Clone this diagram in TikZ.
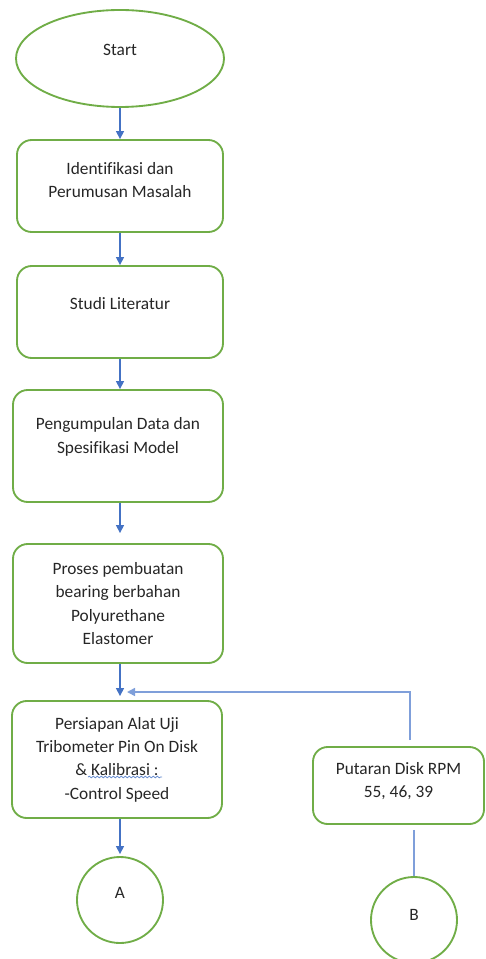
\documentclass[tikz,border=0pt]{standalone}
\usepackage{fontspec}
\setmainfont{Carlito}[Ligatures=CommonOff]
\usetikzlibrary{arrows.meta}
\usetikzlibrary{shapes.geometric}
\usetikzlibrary{decorations.pathmorphing}
\definecolor{shape-green}{HTML}{70AD47}
\definecolor{flow-blue}{HTML}{4472C4}
\definecolor{loop-blue}{HTML}{7F9FDA}
\newcommand{\px}{0.75pt}
\newcommand{\lift}[1]{\rule[-#1]{0pt}{0pt}} % pushes the text up inside its shape
\tikzstyle{boxtext}=[text=black!85,align=center,inner sep=0pt,font=\fontsize{13}{17.5}\selectfont]
\tikzstyle{stepbox}=[boxtext,draw=shape-green,line width=1.4pt,rounded corners=11pt]
\tikzstyle{terminal}=[boxtext,draw=shape-green,line width=1.4pt,ellipse]
\tikzstyle{pageconnector}=[boxtext,draw=shape-green,line width=1.4pt,circle,minimum size=86*\px]
\tikzstyle{flow}=[flow-blue,line width=1.1pt,-{Triangle[width=6pt,length=6pt]}]
\tikzstyle{loopline}=[loop-blue,line width=1.1pt]
\tikzstyle{spellcheck}=[flow-blue!80,line width=0.6pt,decorate,decoration={snake,segment length=3pt,amplitude=0.6pt}]
\begin{document}
\begin{tikzpicture}[x=0.75pt,y=-0.75pt]
\useasboundingbox (0,0) rectangle (485,959);
% main column
\node[terminal,minimum width=208*\px,minimum height=97*\px] (start) at (120,58.5) {Start\lift{13.5pt}};
\node[stepbox,minimum width=206*\px,minimum height=92*\px] (ident) at (120,186) {Identifikasi dan\\Perumusan Masalah\lift{9pt}};
\node[stepbox,minimum width=206*\px,minimum height=92*\px] (studi) at (120,312) {Studi Literatur\lift{13.5pt}};
\node[stepbox,minimum width=210*\px,minimum height=112*\px] (data) at (118,446) {Pengumpulan Data dan\\Spesifikasi Model\lift{16pt}};
\node[stepbox,minimum width=210*\px,minimum height=119*\px] (proses) at (118,603.5) {Proses pembuatan\\bearing berbahan\\Polyurethane\\Elastomer};
\node[stepbox,minimum width=210*\px,minimum height=117*\px] (persiapan) at (117,759.5) {Persiapan Alat Uji\\Tribometer Pin On Disk\\\& Kalibrasi :\\-Control Speed};
\node[pageconnector] (circA) at (120,900) {A\lift{10.5pt}};
% side branch
\node[stepbox,minimum width=171*\px,minimum height=77*\px] (putaran) at (398.5,785.5) {Putaran Disk RPM\\55, 46, 39\lift{8pt}};
\node[pageconnector] (circB) at (414,920) {B\lift{7.5pt}};
% arrows
\coordinate (spine) at (120,0);
\coordinate (merge) at (127,692);
\draw[flow] (start.south) -- (ident.north);
\draw[flow] (ident.south) -- (studi.north);
\draw[flow] (studi.south) -- (data.north -| spine);
\draw[flow,shorten >=10*\px] (data.south -| spine) -- (proses.north -| spine);
\draw[flow,shorten >=4*\px] (proses.south -| spine) -- (persiapan.north -| spine);
\draw[flow,shorten >=2*\px] (persiapan.south -| spine) -- (circA.north);
\draw[loopline,-{Triangle[width=6pt,length=6pt]},shorten <=6*\px] ([xshift=11.5*\px]putaran.north) |- (merge);
\draw[loopline,shorten <=5*\px] (circB.north |- putaran.south) -- (circB.north);
% spell check mark
\draw[spellcheck] (88,777) -- (162,777);
\end{tikzpicture}
\end{document}
